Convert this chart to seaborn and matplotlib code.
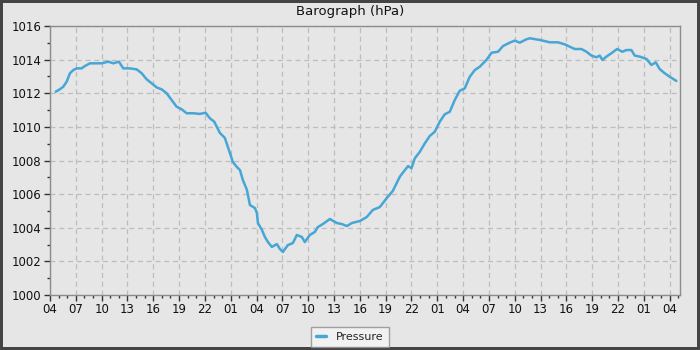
import numpy as np
import pandas as pd
import matplotlib
matplotlib.use("Agg")
import matplotlib.pyplot as plt
from matplotlib.ticker import MultipleLocator, FuncFormatter
import seaborn as sns

# hours since 04:00 on the first day, pressure in hPa
hours = [0.66, 1.16, 1.54, 1.94, 2.32, 2.71, 3.10, 3.68, 4.06, 4.65, 5.23, 6.00,
         6.77, 7.35, 8.01, 8.51, 9.29, 10.07, 10.65, 11.23, 11.81, 12.39, 12.97,
         13.55, 14.13, 14.71, 15.29, 15.88, 16.64, 17.42, 18.08, 18.58, 19.08,
         19.74, 20.32, 20.67, 21.25, 21.72, 22.07, 22.41, 22.88, 23.23, 23.81,
         24.04, 24.16, 24.62, 24.97, 25.32, 25.78, 26.36, 26.71, 27.06, 27.64,
         28.22, 28.68, 29.26, 29.61, 30.19, 30.77, 31.12, 31.70, 32.52, 33.33,
         33.91, 34.49, 35.07, 36.00, 36.81, 37.51, 38.32, 39.14, 39.83, 40.07,
         40.65, 41.23, 41.61, 42.00, 42.39, 42.97, 43.55, 44.13, 44.71, 45.29,
         45.87, 46.45, 47.03, 47.61, 48.19, 48.77, 49.36, 49.94, 50.71, 51.30,
         52.06, 52.64, 53.42, 54.00, 54.58, 55.36, 55.74, 56.91, 58.07, 59.00,
         59.81, 60.39, 60.97, 61.75, 62.33, 62.91, 63.49, 63.87, 64.19, 64.65,
         65.23, 65.88, 66.51, 66.97, 67.55, 67.94, 68.52, 69.30, 69.88, 70.38,
         70.84, 71.42, 72.01, 72.59, 72.78]
pressure = [1012.09, 1012.24, 1012.39, 1012.69, 1013.19, 1013.38, 1013.48, 1013.48,
            1013.62, 1013.78, 1013.78, 1013.78, 1013.88, 1013.78, 1013.88, 1013.48,
            1013.48, 1013.42, 1013.19, 1012.83, 1012.59, 1012.35, 1012.23, 1012.00,
            1011.60, 1011.20, 1011.05, 1010.81, 1010.81, 1010.77, 1010.84, 1010.51,
            1010.31, 1009.64, 1009.34, 1008.80, 1007.91, 1007.61, 1007.43, 1006.84,
            1006.25, 1005.35, 1005.17, 1004.88, 1004.28, 1003.87, 1003.45, 1003.15,
            1002.86, 1003.03, 1002.74, 1002.56, 1002.97, 1003.09, 1003.57, 1003.45,
            1003.15, 1003.57, 1003.75, 1004.04, 1004.22, 1004.52, 1004.28, 1004.22,
            1004.10, 1004.28, 1004.40, 1004.64, 1005.06, 1005.23, 1005.77, 1006.19,
            1006.44, 1007.04, 1007.43, 1007.67, 1007.54, 1008.13, 1008.52, 1009.02,
            1009.46, 1009.71, 1010.31, 1010.75, 1010.90, 1011.60, 1012.15, 1012.29,
            1012.98, 1013.38, 1013.58, 1013.98, 1014.41, 1014.47, 1014.81, 1015.01,
            1015.13, 1015.01, 1015.21, 1015.27, 1015.17, 1015.03, 1015.03,
            1014.91, 1014.77, 1014.63, 1014.63, 1014.47, 1014.24, 1014.14, 1014.24,
            1013.98, 1014.18, 1014.38, 1014.63, 1014.47, 1014.57, 1014.57, 1014.24,
            1014.18, 1014.04, 1013.68, 1013.84, 1013.44, 1013.19, 1012.98, 1012.79,
            1012.73]
start_hour = 4

df = pd.DataFrame({"hours": hours, "Pressure": pressure, "series": "Pressure"})

sns.set_theme(style="white")
plt.rcParams["font.family"] = ["DejaVu Sans"]

bg = "#e6e6e6"
fig = plt.figure(figsize=(7, 3.5), dpi=100, facecolor=bg,
                 edgecolor="#444444", linewidth=4)
ax = fig.add_axes([50 / 700, 55 / 350, 630 / 700, 269 / 350])
ax.set_facecolor(bg)

sns.lineplot(data=df, x="hours", y="Pressure", hue="series",
             palette=["#46a6d6"], linewidth=1.8, ax=ax)

ax.set_xlim(0, 73.2)
ax.set_ylim(1000, 1016)
ax.xaxis.set_major_locator(MultipleLocator(3))
ax.xaxis.set_minor_locator(MultipleLocator(1))
ax.yaxis.set_major_locator(MultipleLocator(2))
ax.yaxis.set_minor_locator(MultipleLocator(1))
ax.xaxis.set_major_formatter(
    FuncFormatter(lambda v, p: "%02d" % ((start_hour + int(round(v))) % 24)))
ax.yaxis.set_major_formatter(FuncFormatter(lambda v, p: "%d" % v))

ax.grid(True, which="major", color="#bdbdbd", linestyle=(0, (4, 3)), linewidth=0.9)
for s in ax.spines.values():
    s.set_color("#8c8c8c")
    s.set_linewidth(1)
ax.tick_params(which="major", direction="out", length=4, width=1, color="#333333",
               labelsize=8.5, labelcolor="#111111", pad=2, bottom=True, left=True)
ax.tick_params(which="minor", direction="out", length=2, width=1, color="#333333",
               bottom=True, left=True)

ax.set_xlabel("")
ax.set_ylabel("")
fig.text(0.5, 1 - 12 / 350, "Barograph (hPa)", ha="center", va="center",
         fontsize=9.5, color="#111111")

leg = ax.legend(loc="center", bbox_to_anchor=(300 / 630, -0.155), ncol=1,
                frameon=True, fontsize=8, handlelength=0.9, handletextpad=0.9,
                borderpad=0.45, fancybox=False)
leg.get_frame().set_facecolor("#f4f4f4")
leg.get_frame().set_edgecolor("#8c8c8c")
leg.get_frame().set_linewidth(1)
for line in leg.get_lines():
    line.set_linewidth(2.5)

fig.savefig("out.png", dpi=100, facecolor=fig.get_facecolor(),
            edgecolor=fig.get_edgecolor())
